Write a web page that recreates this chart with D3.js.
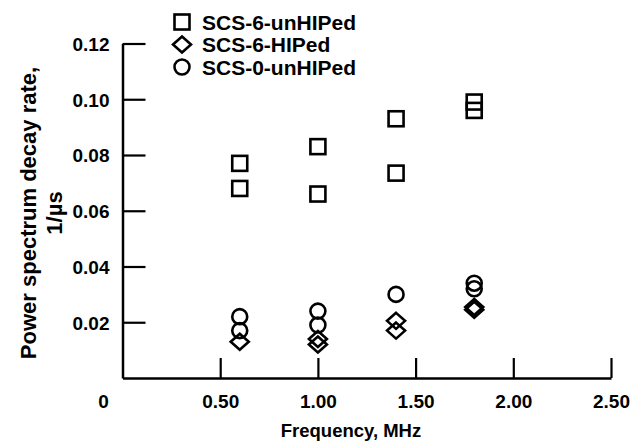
<!DOCTYPE html>
<html>
<head>
<meta charset="utf-8">
<script src="https://cdn.jsdelivr.net/npm/d3@7"></script>
<style>
  body { margin: 0; background: #fff; }
  svg { display: block; font-family: 'Liberation Sans', Arial, Helvetica, sans-serif; font-weight: bold; }
</style>
</head>
<body>
<div id="chart"></div>
<script>
// values (frequency in MHz, decay rate in 1/us)
const seriesNames = ['SCS-6-unHIPed', 'SCS-6-HIPed', 'SCS-0-unHIPed']
const xTicks = [0.5, 1.0, 1.5, 2.0, 2.5]
const yTicks = [0.02, 0.04, 0.06, 0.08, 0.10, 0.12]

const scs6UnhipedFreq = [0.6, 0.6, 1.0, 1.0, 1.4, 1.4, 1.8, 1.8]
const scs6UnhipedRate = [0.077, 0.068, 0.083, 0.066, 0.093, 0.0735, 0.099, 0.096]

const scs6HipedFreq = [0.6, 1.0, 1.0, 1.4, 1.4, 1.8, 1.8]
const scs6HipedRate = [0.013, 0.014, 0.012, 0.0205, 0.017, 0.0255, 0.0245]

const scs0UnhipedFreq = [0.6, 0.6, 1.0, 1.0, 1.4, 1.8, 1.8]
const scs0UnhipedRate = [0.022, 0.017, 0.024, 0.019, 0.030, 0.034, 0.032]

const width = 642, height = 441

const svg = d3.select('#chart').append('svg')
    .attr('width', width)
    .attr('height', height)

const x = d3.scaleLinear().domain([0, 2.5]).range([122.5, 611])
const y = d3.scaleLinear().domain([0, 0.12]).range([378, 43.5])

// axes: ticks point inward
const xAxis = svg.append('g')
    .attr('transform', `translate(0,${y(0)})`)
    .call(d3.axisBottom(x)
      .tickValues(xTicks)
      .tickFormat(d3.format('.2f'))
      .tickSize(-20)
      .tickSizeOuter(0)
      .tickPadding(17))

const yAxis = svg.append('g')
    .attr('transform', `translate(${x(0)},0)`)
    .call(d3.axisLeft(y)
      .tickValues(yTicks)
      .tickFormat(d3.format('.2f'))
      .tickSize(-23)
      .tickSizeOuter(0)
      .tickPadding(13))

for (const ax of [xAxis, yAxis]) {
  ax.select('.domain').attr('stroke', '#000').attr('stroke-width', 2.5)
  ax.selectAll('.tick line').attr('stroke', '#000').attr('stroke-width', 2.2)
  ax.selectAll('.tick text')
    .attr('fill', '#000')
    .style('font-size', '19px')
    .style('font-family', "'Liberation Sans', Arial, sans-serif")
    .style('font-weight', 'bold')
}
yAxis.selectAll('.tick text').attr('dy', '0.36em')

// shared origin label
svg.append('text')
    .attr('x', x(0) - 19)
    .attr('y', 408)
    .attr('text-anchor', 'middle')
    .style('font-size', '19px')
    .text('0')

// axis titles
svg.append('text')
    .attr('x', 351)
    .attr('y', 437)
    .attr('text-anchor', 'middle')
    .style('font-size', '18.5px')
    .text('Frequency, MHz')

const yTitle = svg.append('text')
    .attr('transform', 'translate(36,213) rotate(-90)')
    .attr('text-anchor', 'middle')
    .style('font-size', '22px')
yTitle.append('tspan').attr('x', 0).attr('dy', 0).text('Power spectrum decay rate,')
yTitle.append('tspan').attr('x', 0).attr('dy', 26).text('1/µs')

// marker shapes
const shapes = {
  square: g => g.append('rect').attr('x', -7.5).attr('y', -7.5).attr('width', 15).attr('height', 15),
  diamond: g => g.append('path').attr('d', 'M0,-8L9,0L0,8L-9,0Z'),
  circle: g => g.append('circle').attr('r', 7.5)
}

function drawSeries (freqs, rates, shape) {
  const pts = freqs.map((f, i) => ({ f, v: rates[i] }))
  const g = svg.append('g')
      .attr('fill', 'none')
      .attr('stroke', '#000')
      .attr('stroke-width', 2.6)
  g.selectAll('g')
    .data(pts)
    .enter().append('g')
      .attr('transform', d => `translate(${x(d.f)},${y(d.v)})`)
      .each(function () { shapes[shape](d3.select(this)) })
}

drawSeries(scs6UnhipedFreq, scs6UnhipedRate, 'square')
drawSeries(scs0UnhipedFreq, scs0UnhipedRate, 'circle')
drawSeries(scs6HipedFreq, scs6HipedRate, 'diamond')

// legend
const legendShapes = ['square', 'diamond', 'circle']
const legend = svg.append('g')
legend.selectAll('g')
  .data(seriesNames)
  .enter().append('g')
    .attr('transform', (d, i) => `translate(182,${22 + i * 22.5})`)
    .each(function (d, i) {
      const row = d3.select(this)
      const mark = row.append('g').attr('fill', 'none').attr('stroke', '#000').attr('stroke-width', 2.6)
      shapes[legendShapes[i]](mark)
      row.append('text')
        .attr('x', 20)
        .attr('y', 7.5)
        .style('font-size', '21px')
        .text(d)
    })
</script>
</body>
</html>
